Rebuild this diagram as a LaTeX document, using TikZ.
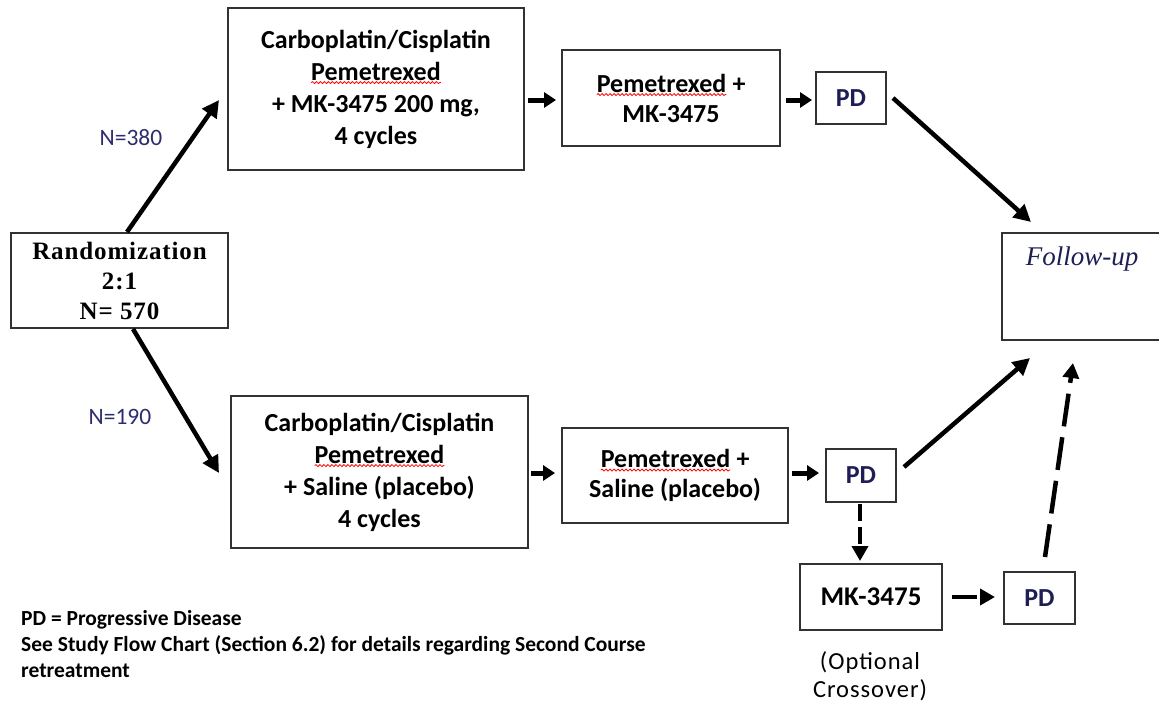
\documentclass[tikz,border=0pt]{standalone}
\usepackage{fontspec}
\setmainfont{Carlito}
\newfontfamily\timesf{Liberation Serif}
\newfontfamily\timessp[LetterSpace=3.5]{Liberation Serif}
\newfontfamily\spacedf[LetterSpace=4]{Carlito}
\usetikzlibrary{arrows.meta,calc,decorations.pathmorphing}
\definecolor{boxline}{RGB}{50,50,50}
\definecolor{navy}{RGB}{30,30,85}
\definecolor{nlabel}{RGB}{45,45,110}
\newcommand\squigword[1]{\tikz[baseline=(w.base)]{\node[draw=none,inner sep=0pt,outer sep=0pt,minimum width=0pt,minimum height=0pt,anchor=base] (w) {#1};
  \draw[red,line width=0.8pt,dash pattern=on 1pt off 0pt,decorate,decoration={snake,segment length=4pt,amplitude=1pt}] ([yshift=-2.5pt]w.base west) -- ([yshift=-2.5pt]w.base east);}}
\begin{document}
\begin{tikzpicture}[x=1pt,y=-1pt,
  box/.style={draw=boxline,line width=2pt,rectangle,inner sep=0pt,align=center,
    font=\fontsize{26}{32}\selectfont\bfseries},
  pdbox/.style={box,text=navy},
  arr/.style={line width=4.5pt,-{Triangle[length=17pt,width=17pt]}},
  sarr/.style={line width=5pt,-{Triangle[length=12pt,width=15pt]}},
  darr/.style={line width=4.5pt,-{Triangle[length=15pt,width=16pt]}},
  nlab/.style={text=nlabel,font=\fontsize{23.5}{26}\selectfont}
]
\useasboundingbox (0,0) rectangle (1159,704);
\clip (0,0) rectangle (1159,704);

% nodes
\node[box,minimum width=217pt,minimum height=95pt,font=\timessp\fontsize{25}{30}\selectfont\bfseries] (rand) at (119.5,280.5) {Randomization\\2:1\\N= 570};
\node[box,minimum width=296pt,minimum height=162pt] (b1) at (376,89) {Carboplatin/Cisplatin\\\squigword{Pemetrexed}\\+ MK-3475 200 mg,\\4 cycles};
\node[box,minimum width=218pt,minimum height=96pt,font=\fontsize{26}{30}\selectfont\bfseries] (b2) at (671,98) {\squigword{Pemetrexed} +\\MK-3475};
\node[pdbox,minimum width=70pt,minimum height=52pt] (pd1) at (851,98) {PD};
\node[box,minimum width=173pt,minimum height=107pt] (fu) at (1088.5,286.5) {};
\node[text=navy,font=\timesf\itshape\fontsize{27}{30}\selectfont] (futext) at (1082,259) {Follow-up};
\node[box,minimum width=297pt,minimum height=152pt] (b3) at (379.5,472) {Carboplatin/Cisplatin\\\squigword{Pemetrexed}\\+ Saline (placebo)\\4 cycles};
\node[box,minimum width=226pt,minimum height=95pt,font=\fontsize{26}{30}\selectfont\bfseries] (b4) at (675,475.5) {\squigword{Pemetrexed} +\\Saline (placebo)};
\node[pdbox,minimum width=70pt,minimum height=53pt] (pd2) at (861,475.5) {PD};
\node[box,minimum width=142pt,minimum height=66pt,font=\fontsize{27}{30}\selectfont\bfseries] (mk) at (871,597) {MK-3475};
\node[pdbox,minimum width=71pt,minimum height=52pt] (pd3) at (1039.5,598) {PD};

\node[nlab] (n380) at (131,138) {N=380};
\node[nlab] (n190) at (120,417) {N=190};
\node[font=\spacedf\fontsize{24.5}{28}\selectfont,align=center] (opt) at (870,676) {(Optional\\Crossover)};
\node[font=\fontsize{21.5}{26}\selectfont\bfseries,align=left,anchor=base west,inner sep=0pt] (foot) at (21,677)
  {PD = Progressive Disease\\See Study Flow Chart (Section 6.2) for details regarding Second Course\\retreatment};

% connectors
\draw[arr] ($(rand.north)+(7.5,0)$) -- ($(b1.west)+(-8,11)$);
\draw[arr] ($(rand.south)+(13.5,0)$) -- ($(b3.west)+(-11,1)$);
\draw[sarr] ($(b1.east)+(3,11)$) -- ($(b2.west)+(-5,2)$);
\draw[sarr] ($(b2.east)+(5,2)$) -- ($(pd1.west)+(-3,2)$);
\draw[arr] ($(pd1.east)+(6,0)$) -- ($(fu.north west)+(30,-10)$);
\draw[sarr] ($(b3.east)+(2,1)$) -- ($(b4.west)+(-6,-2.5)$);
\draw[sarr] ($(b4.east)+(3,-2.5)$) -- ($(pd2.west)+(-6,-2.5)$);
\draw[arr] ($(pd2.east)+(7,-8.5)$) -- ($(fu.south west)+(29,17)$);
\draw[darr,dash pattern=on 17pt off 6pt] ($(pd2.south)+(-1,1)$) -- ($(mk.north)+(-11,-2)$);
\draw[darr,dash pattern=on 25pt off 4pt] ($(mk.east)+(9,0)$) -- ($(pd3.west)+(-8,-1)$);
\draw[darr,dash pattern=on 33pt off 11pt] ($(pd3.north)+(5.5,-14)$) -- ($(fu.south west)+(72,22)$);
\end{tikzpicture}
\end{document}
